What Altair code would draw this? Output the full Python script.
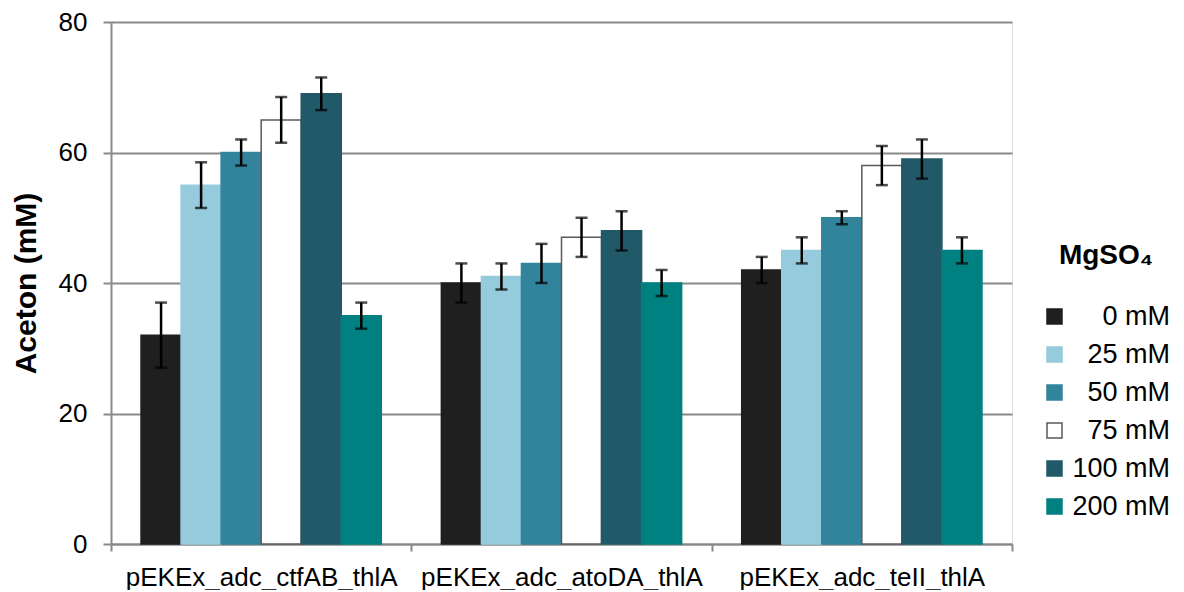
import altair as alt
import pandas as pd

groups = ["pEKEx_adc_ctfAB_thlA", "pEKEx_adc_atoDA_thlA", "pEKEx_adc_teII_thlA"]
concs = ["0 mM", "25 mM", "50 mM", "75 mM", "100 mM", "200 mM"]
vals_ctfAB = [32, 55, 60, 65, 69, 35]
errs_ctfAB = [5, 3.5, 2, 3.5, 2.5, 2]
vals_atoDA = [40, 41, 43, 47, 48, 40]
errs_atoDA = [3, 2, 3, 3, 3, 2]
vals_teII = [42, 45, 50, 58, 59, 45]
errs_teII = [2, 2, 1, 3, 3, 2]

fill_colors = ["#1f1f1f", "#95cbdc", "#31849b", "#ffffff", "#215968", "#008080"]
stroke_colors = ["#1f1f1f", "#95cbdc", "#31849b", "#595959", "#215968", "#008080"]

rows = []
for g, vals, errs in zip(groups, [vals_ctfAB, vals_atoDA, vals_teII], [errs_ctfAB, errs_atoDA, errs_teII]):
    for c, v, e in zip(concs, vals, errs):
        rows.append({"group": g, "conc": c, "value": v, "lo": v - e, "hi": v + e})
df = pd.DataFrame(rows)

grey = "#898989"

x = alt.X("group:N", sort=groups, title=None,
          scale=alt.Scale(paddingInner=0, paddingOuter=0),
          axis=alt.Axis(labelAngle=0, labelFontSize=26, labelColor="#000000",
                        labelPadding=13, labelLimit=500, tickBand="extent", tickSize=7,
                        tickColor=grey, tickWidth=2,
                        domainColor=grey, domainWidth=2, grid=False,
                        labelFont="Liberation Sans"))
xo = alt.XOffset("conc:N", sort=concs,
                 scale=alt.Scale(domain=concs, paddingInner=0, paddingOuter=0.75))

base = alt.Chart(df)

legend = alt.Legend(
    title="MgSO₄", orient="none", legendX=930, legendY=220,
    titleFontSize=28, titleFontWeight="bold", titleColor="#000000",
    titleFont="Liberation Sans", titleAnchor="middle",
    titlePadding=33,
    labelFontSize=27, labelColor="#000000", labelFont="Liberation Sans",
    labelAlign="right", labelOffset=102, rowPadding=10, labelLimit=300,
    symbolType="square", symbolSize=225, symbolStrokeWidth=1.5,
    symbolOpacity=1)

bars = base.mark_bar(strokeWidth=1.5).encode(
    x=x,
    xOffset=xo,
    y=alt.Y("value:Q", title="Aceton (mM)",
            scale=alt.Scale(domain=[0, 80], nice=False),
            axis=alt.Axis(values=[0, 20, 40, 60, 80], labelFontSize=26,
                          labelColor="#000000", labelPadding=16, tickSize=8,
                          tickColor=grey, tickWidth=2,
                          domainColor=grey, domainWidth=2,
                          gridColor=grey, gridWidth=2,
                          titleFontSize=30, titleFontWeight="bold",
                          titleColor="#000000", titlePadding=17,
                          labelFont="Liberation Sans", titleFont="Liberation Sans")),
    fill=alt.Fill("conc:N", sort=concs,
                  scale=alt.Scale(domain=concs, range=fill_colors),
                  legend=legend),
    stroke=alt.Stroke("conc:N", sort=concs,
                      scale=alt.Scale(domain=concs, range=stroke_colors),
                      legend=legend),
)

rules = base.mark_rule(color="#000000", strokeWidth=2.5).encode(
    x=x, xOffset=xo, y="lo:Q", y2="hi:Q")
caps_lo = base.mark_tick(color="#000000", thickness=2.5, size=12, orient="horizontal").encode(
    x=x, xOffset=xo, y="lo:Q")
caps_hi = base.mark_tick(color="#000000", thickness=2.5, size=12, orient="horizontal").encode(
    x=x, xOffset=xo, y="hi:Q")

chart = alt.layer(bars, rules, caps_lo, caps_hi).properties(
    width=901, height=522,
    autosize=alt.AutoSizeParams(type="none"),
    padding={"left": 103, "top": 14, "right": 160, "bottom": 46},
).configure_view(stroke=None).configure(font="Liberation Sans")

chart.save("out.html", embed_options={"renderer": "svg", "actions": False})
